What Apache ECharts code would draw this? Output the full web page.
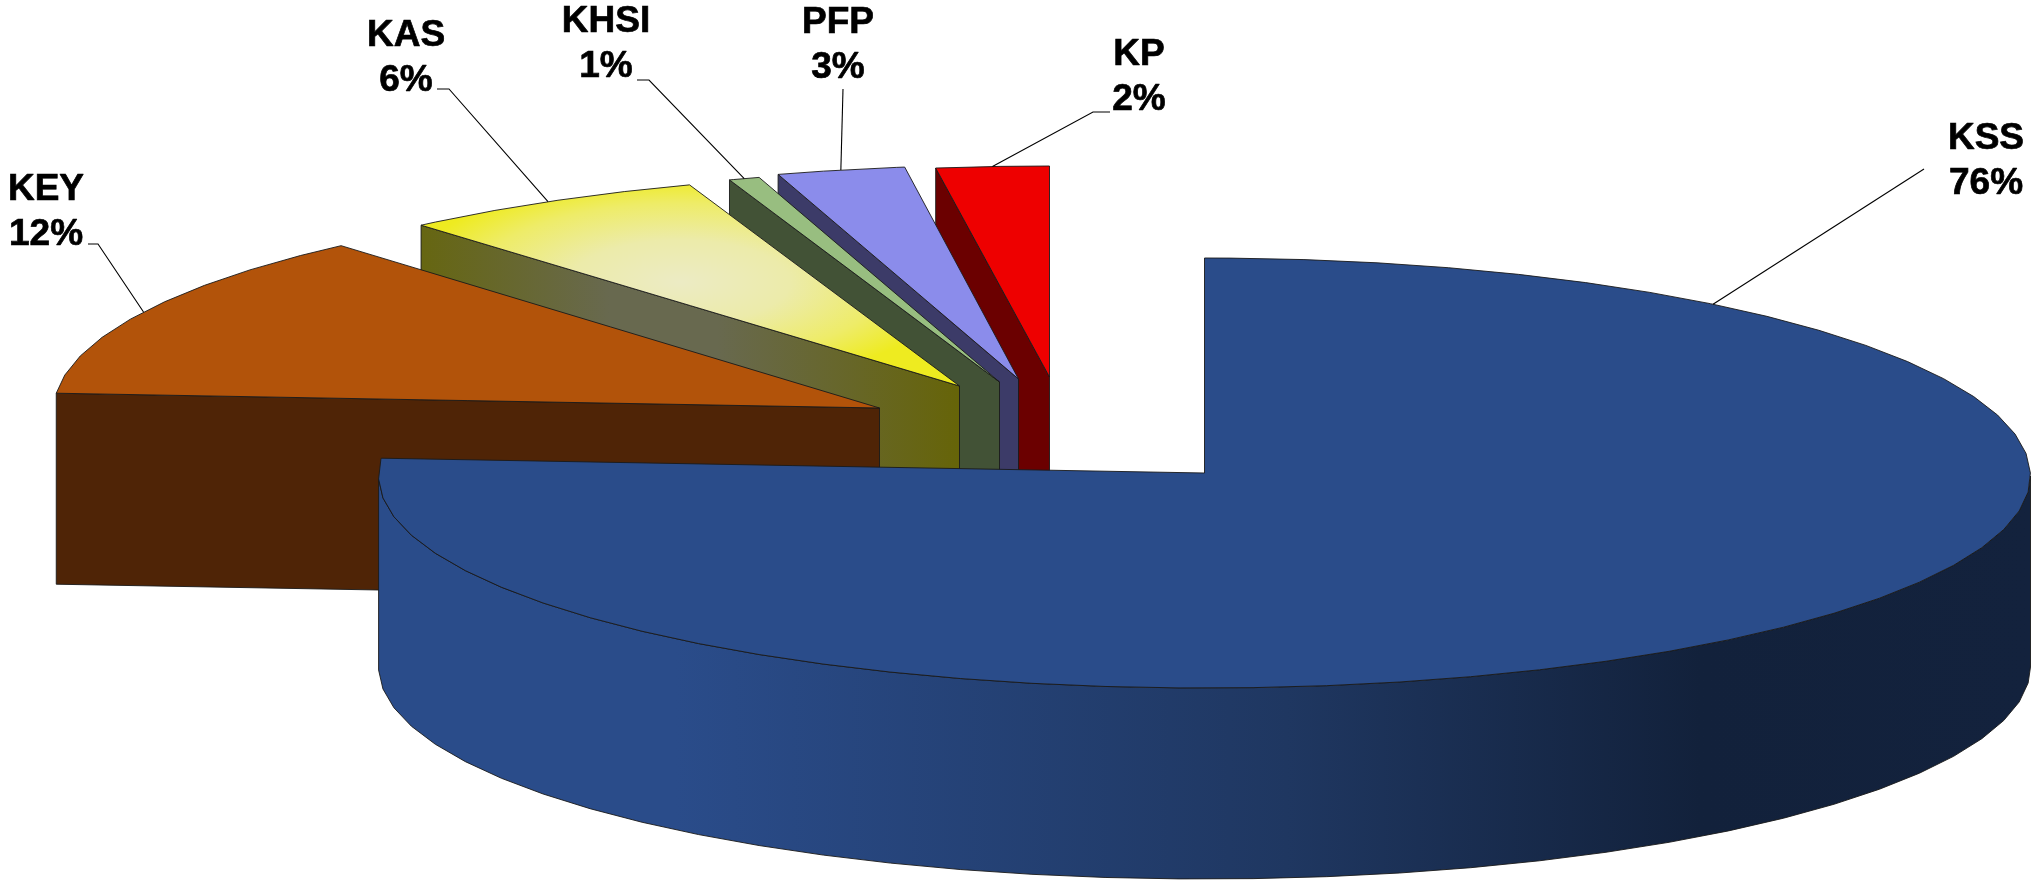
<!DOCTYPE html>
<html>
<head>
<meta charset="utf-8">
<style>html,body{margin:0;padding:0;background:#fff}#c{width:2036px;height:880px}</style>
<script src="https://cdn.jsdelivr.net/npm/echarts@6/dist/echarts.min.js"></script>
</head>
<body>
<div id="c"></div>
<script>
// ---- data (clockwise from 12 o'clock) ----
const names   = ['KSS', 'KEY', 'KAS', 'KHSI', 'PFP', 'KP'];
const values  = [76.3, 12.4, 6.0, 0.6, 2.5, 2.2];
const percentLabels = ['76%', '12%', '6%', '1%', '3%', '2%'];

// ---- layout and style, separate from the data ----
const PIE = { cx: 1204.5, cy: 473, rx: 826, rimDrop: 3, ryNear: 212, depth: 191, facetStep: 360 / 70, facetPhase: 269.2 };
const ryFar = [218, 218, 216, 217, 217, 214];
const explode = [[0, 0], [-325, -65], [-245, -87], [-205, -91], [-186, -94], [-155, -96]];
const topColors  = ['#2a4c8a', '#b2530a', '#eeeb20', '#98be80', '#8b8ceb', '#ee0000'];
const wallColors = ['#2a4c8a', '#4f2406', '#666611', '#425236', '#3c3b68', '#6b0000'];
const labelCentres = [[1986, 139], [46, 190], [406, 36], [606, 22], [838, 23], [1139, 55]];
const LINE_GAP = 44.5;
const leaderStarts = [[[1924, 169]], [[88, 244], [98, 244]], [[437, 89], [449, 89]], [[637, 80], [649, 80]], [[843, 89]], [[1110, 112], [1093, 112]]];
const leaderAngles = [38, null, null, null, null, null]; // degrees clockwise from 12 o'clock; null = slice middle
const drawOrder = [5, 4, 3, 2, 1, 0];

const total = values.reduce((a, b) => a + b, 0);
const starts = [];
values.reduce((acc, v, i) => { starts[i] = acc; return acc + v / total * 360; }, 0);

function rim(i, deg, dz) {
  const r = deg * Math.PI / 180, c = Math.cos(r);
  return [PIE.cx + explode[i][0] + PIE.rx * Math.sin(r),
          PIE.cy + explode[i][1] + PIE.rimDrop - (c > 0 ? ryFar[i] : PIE.ryNear) * c + (dz || 0)];
}
// the reference's rim is a faceted polygon, so sample it at fixed facets
function arc(i, a, b, dz) {
  const pts = [rim(i, a, dz)];
  const s = PIE.facetStep;
  let k = Math.ceil((a - PIE.facetPhase) / s);
  for (let t = PIE.facetPhase + k * s; t < b - 0.01; t += s) if (t > a + 0.01) pts.push(rim(i, t, dz));
  pts.push(rim(i, b, dz));
  return pts;
}
const EDGE = { stroke: '#1a1a1a', lineWidth: 0.9 };

function renderItem(params, api) {
  const i = api.value(0);
  const span = api.value(1) / total * 360;
  const a = starts[i], b = a + span;
  const [ox, oy] = explode[i];
  const apex = [PIE.cx + ox, PIE.cy + oy];
  const d = PIE.depth;
  const children = [];

  // faces
  if (i === 0) {
    // outer wall of the big slice, from 3 o'clock round the bottom to the left extreme
    const end = Math.min(b, PIE.facetPhase);
    const top = arc(i, 90, end, 0);
    const bot = arc(i, 90, end, d);
    children.push({
      type: 'polygon', shape: { points: top.concat(bot.reverse()) },
      style: {
        fill: { type: 'linear', x: 0, y: 0, x2: 1, y2: 0, colorStops: [
          { offset: 0, color: '#2a4c8a' }, { offset: 0.18, color: '#2a4c8a' },
          { offset: 0.55, color: '#1f3761' }, { offset: 0.8, color: '#12213b' },
          { offset: 1, color: '#13223d' }] },
        ...EDGE
      }
    });
  } else {
    // radial wall on the near side of the slice
    const c = rim(i, a);
    const fill = i === 2 ? {
      type: 'linear', x: 0, y: 0, x2: 1, y2: 0, colorStops: [
        { offset: 0, color: '#666611' }, { offset: 0.35, color: '#68694f' },
        { offset: 0.55, color: '#68694f' }, { offset: 1, color: '#666408' }]
    } : wallColors[i];
    children.push({
      type: 'polygon',
      shape: { points: [apex, c, [c[0], c[1] + d], [apex[0], apex[1] + d]] },
      style: { fill, ...EDGE }
    });
  }

  const outline = [apex].concat(arc(i, a, b, 0));
  if (i === 2) {
    // soft elliptical highlight on the yellow slice
    const k = 105 / 275;
    children.push({
      type: 'polygon', scaleY: k,
      shape: { points: outline.map(p => [p[0], p[1] / k]) },
      style: {
        fill: { type: 'radial', x: 680, y: 282 / k, r: 275, global: true, colorStops: [
          { offset: 0, color: '#ecebc4' }, { offset: 0.4, color: '#ecebaa' },
          { offset: 0.75, color: '#eeec68' }, { offset: 1, color: '#eeeb20' }] }
      }
    });
    children.push({ type: 'polygon', shape: { points: outline }, style: { fill: 'none', ...EDGE } });
  } else {
    children.push({ type: 'polygon', shape: { points: outline }, style: { fill: topColors[i], ...EDGE } });
  }

  // leader line
  const la = leaderAngles[i] === null ? (a + b) / 2 : leaderAngles[i];
  children.push({
    type: 'polyline', z2: 50,
    shape: { points: leaderStarts[i].concat([rim(i, la)]) },
    style: { fill: 'none', stroke: '#000', lineWidth: 1.1 }
  });

  // label
  const [lx, ly] = labelCentres[i];
  [names[i], percentLabels[i]].forEach((t, n) => children.push({
    type: 'text', z2: 60,
    style: {
      text: t, x: lx, y: ly + n * LINE_GAP, align: 'center', verticalAlign: 'middle',
      font: 'bold 37px "Liberation Sans", Arial, sans-serif', fill: '#000',
      stroke: '#000', lineWidth: 0.7
    }
  }));
  return { type: 'group', children };
}

const chart = echarts.init(document.getElementById('c'), null, { renderer: 'canvas', width: 2036, height: 880 });
chart.setOption({
  animation: false,
  backgroundColor: '#fff',
  series: [{
    type: 'custom', coordinateSystem: 'none', silent: true,
    renderItem,
    data: drawOrder.map(i => [i, values[i]])
  }]
});
</script>
</body>
</html>
